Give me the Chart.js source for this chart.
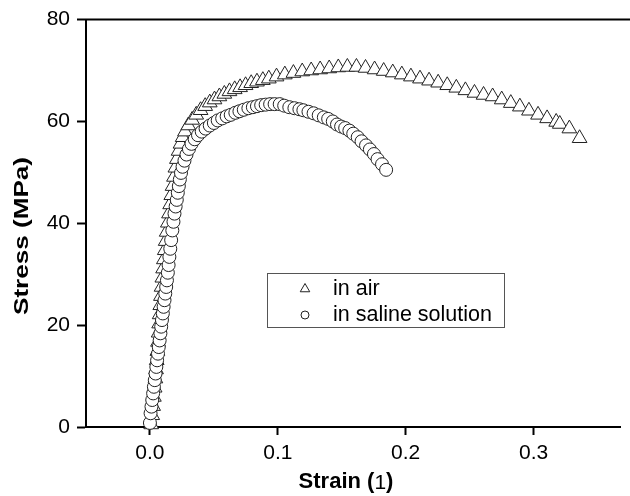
<!DOCTYPE html>
<html>
<head>
<meta charset="utf-8">
<script src="https://cdn.jsdelivr.net/npm/chart.js@4.4.1/dist/chart.umd.min.js"></script>
<style>
html,body{margin:0;padding:0;background:#fff;}
canvas{display:block;}
</style>
</head>
<body>
<canvas id="c" width="630" height="496"></canvas>
<script>
const xTicks = [0.0, 0.1, 0.2, 0.3];
const yTicks = [0, 20, 40, 60, 80];
const seriesLabels = ["in air", "in saline solution"];

const airStrain = [
0.0010,0.0018,0.0025,0.0031,0.0037,0.0043,0.0048,0.0053,0.0058,0.0063,
0.0068,0.0072,0.0076,0.0081,0.0086,0.0091,0.0097,0.0103,0.0109,0.0116,
0.0123,0.0131,0.0140,0.0149,0.0158,0.0167,0.0177,0.0188,0.0199,0.0211,
0.0224,0.0239,0.0256,0.0274,
0.0300,0.0330,0.0362,0.0396,0.0432,0.0468,0.0505,0.0543,0.0582,0.0622,
0.0663,0.0705,0.0748,0.0792,0.0837,0.0883,0.0930,0.0990,0.1055,0.1122,
0.1191,0.1261,0.1331,0.1402,0.1473,0.1544,0.1615,0.1686,0.1757,0.1828,
0.1899,0.1970,0.2041,0.2112,0.2183,0.2254,0.2325,0.2396,0.2467,0.2538,
0.2609,0.2680,0.2751,0.2822,0.2893,0.2964,0.3035,0.3106,0.3177,0.3205,
0.3280,0.3360];
const airStress = [
0.5,2.3,4.1,5.9,7.7,9.5,11.3,13.1,14.9,16.7,
18.5,20.3,22.1,23.9,25.7,27.5,29.3,31.1,32.9,34.7,
36.5,38.3,40.1,41.9,43.7,45.5,47.3,49.1,50.9,52.6,
54.2,55.6,56.9,58.0,
59.2,60.3,61.3,62.2,63.0,63.7,64.3,64.9,65.4,65.9,
66.3,66.7,67.1,67.5,67.8,68.1,68.4,68.8,69.2,69.5,
69.8,70.0,70.2,70.4,70.6,70.7,70.7,70.5,70.2,69.9,
69.6,69.2,68.8,68.4,68.0,67.6,67.1,66.6,66.1,65.6,
65.2,64.9,64.3,63.6,62.9,62.1,61.3,60.6,59.9,59.5,
58.6,56.7];

const salineStrain = [
0.0000,0.0005,0.0012,0.0018,0.0025,0.0031,0.0038,0.0044,0.0050,0.0056,
0.0063,0.0069,0.0076,0.0082,0.0088,0.0094,0.0101,0.0107,0.0114,0.0120,
0.0127,0.0133,0.0140,0.0146,0.0152,0.0159,0.0166,0.0175,0.0184,0.0192,
0.0201,0.0210,0.0218,0.0226,0.0234,0.0243,0.0255,0.0270,0.0286,0.0305,
0.0325,0.0350,0.0376,0.0405,0.0435,0.0468,0.0500,0.0530,0.0565,0.0600,
0.0632,0.0668,0.0700,0.0734,0.0770,0.0805,0.0837,0.0870,0.0905,0.0940,
0.0975,0.1015,0.1050,0.1090,0.1130,0.1169,0.1200,0.1240,0.1280,0.1320,
0.1360,0.1394,0.1430,0.1463,0.1495,0.1527,0.1560,0.1590,0.1625,0.1655,
0.1690,0.1720,0.1752,0.1780,0.1815,0.1847];
const salineStress = [
0.8,2.7,4.0,5.3,6.6,7.9,9.2,10.5,11.8,13.1,
14.4,15.7,17.0,18.4,19.7,21.0,22.3,23.6,24.9,26.2,
27.5,28.8,30.3,31.8,33.4,35.0,36.7,38.6,40.3,41.9,
43.3,44.6,46.0,47.3,48.6,49.9,51.1,52.3,53.5,54.6,
55.6,56.5,57.3,58.0,58.6,59.2,59.7,60.2,60.6,61.0,
61.3,61.7,62.0,62.3,62.6,62.8,63.0,63.2,63.3,63.4,
63.4,63.4,63.1,62.8,62.6,62.4,62.2,61.9,61.6,61.2,
60.8,60.5,60.0,59.4,59.0,58.7,58.2,57.6,56.9,56.1,
55.3,54.5,53.6,52.6,51.6,50.5];

const toPts = (xs, ys) => xs.map((x, i) => ({x: x, y: ys[i]}));

const FONT = "'Liberation Sans', Arial, Helvetica, sans-serif";

const framePlugin = {
  id: 'frame',
  afterDraw(chart) {
    const ctx = chart.ctx, a = chart.chartArea;
    ctx.save();
    // top frame line
    ctx.strokeStyle = '#000';
    ctx.lineWidth = 2;
    ctx.beginPath();
    ctx.moveTo(a.left - 1, a.top);
    ctx.lineTo(chart.width, a.top);
    ctx.stroke();

    // x axis title: bold "Strain (", regular "1", bold ")"
    ctx.fillStyle = '#000';
    ctx.textBaseline = 'middle';
    const bold = "bold 22px " + FONT, reg = "21px " + FONT;
    const p1 = "Strain (", p2 = "1", p3 = ")";
    ctx.font = bold; const w1 = ctx.measureText(p1).width;
    ctx.font = reg;  const w2 = ctx.measureText(p2).width;
    ctx.font = bold; const w3 = ctx.measureText(p3).width;
    const sx = 346 - (w1 + w2 + w3) / 2, sy = 482;
    ctx.textAlign = 'left';
    ctx.font = bold; ctx.fillText(p1, sx, sy);
    ctx.font = reg;  ctx.fillText(p2, sx + w1, sy + 1);
    ctx.font = bold; ctx.fillText(p3, sx + w1 + w2, sy);

    // y axis title (wide lettering as in the original)
    ctx.translate(22, 236);
    ctx.rotate(-Math.PI / 2);
    ctx.textAlign = 'center';
    ctx.font = "bold 21px " + FONT;
    const tw = ctx.measureText("Stress (MPa)").width;
    ctx.scale(158 / tw, 1);
    ctx.fillText("Stress (MPa)", 0, 0);
    ctx.restore();

    // legend
    ctx.save();
    ctx.fillStyle = '#fff';
    ctx.fillRect(267, 273, 237, 54);
    ctx.strokeStyle = '#555';
    ctx.lineWidth = 1;
    ctx.strokeRect(267.5, 273.5, 237, 54);
    const ds = chart.data.datasets;
    const rows = [289, 315];
    ds.forEach((d, i) => {
      ctx.fillStyle = '#fff';
      ctx.strokeStyle = '#222';
      ctx.lineWidth = 1;
      Chart.helpers.drawPoint(ctx, {
        pointStyle: d.pointStyle, radius: d.pointStyle === 'triangle' ? 5.5 : 4,
        borderWidth: 1, rotation: 0
      }, 305, rows[i]);
      ctx.fillStyle = '#000';
      ctx.font = "21.5px " + FONT;
      ctx.textAlign = 'left';
      ctx.textBaseline = 'middle';
      ctx.fillText(d.label, 333, rows[i]);
    });
    ctx.restore();
  }
};

new Chart(document.getElementById('c'), {
  type: 'scatter',
  data: {
    datasets: [
      {
        label: seriesLabels[0],
        data: toPts(airStrain, airStress),
        pointStyle: 'triangle',
        pointRadius: 8.5,
        pointHoverRadius: 8.5,
        borderColor: '#222',
        backgroundColor: '#fff',
        borderWidth: 1,
        order: 1,
        clip: false
      },
      {
        label: seriesLabels[1],
        data: toPts(salineStrain, salineStress),
        pointStyle: 'circle',
        pointRadius: 6.5,
        pointHoverRadius: 6.5,
        borderColor: '#222',
        backgroundColor: '#fff',
        borderWidth: 1,
        order: 0,
        clip: false
      }
    ]
  },
  options: {
    responsive: false,
    animation: false,
    events: [],
    layout: { padding: { top: 19, right: 0, left: 0, bottom: 0 } },
    plugins: { legend: { display: false }, tooltip: { enabled: false } },
    scales: {
      x: {
        type: 'linear',
        min: -0.05,
        max: 0.368,
        afterFit: s => { s.height = 69; },
        afterBuildTicks: s => { s.ticks = xTicks.map(v => ({value: v})); },
        grid: { display: true, drawOnChartArea: false, drawTicks: true, tickLength: 8, tickWidth: 2, tickColor: '#000' },
        border: { display: true, color: '#000', width: 2 },
        ticks: { color: '#000', padding: 6, font: { size: 21, family: FONT }, callback: v => v.toFixed(1), maxRotation: 0 }
      },
      y: {
        type: 'linear',
        min: 0,
        max: 80,
        afterFit: s => { s.width = 86; },
        afterBuildTicks: s => { s.ticks = yTicks.map(v => ({value: v})); },
        grid: { display: true, drawOnChartArea: false, drawTicks: true, tickLength: 9, tickWidth: 2, tickColor: '#000' },
        border: { display: true, color: '#000', width: 2 },
        ticks: { color: '#000', padding: 7, font: { size: 21, family: FONT }, callback: v => String(v) }
      }
    }
  },
  plugins: [framePlugin]
});
</script>
</body>
</html>
